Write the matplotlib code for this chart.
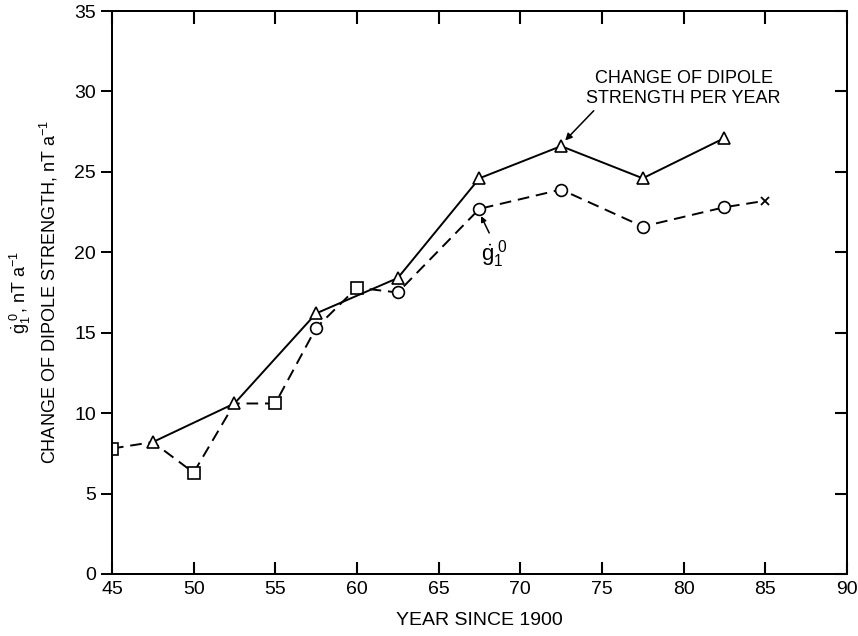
import matplotlib
matplotlib.use('Agg')
import matplotlib.pyplot as plt

# dipole change per year (solid line, triangles)
yr_tri = [47.5, 52.5, 57.5, 62.5, 67.5, 72.5, 77.5, 82.5]
val_tri = [8.2, 10.6, 16.2, 18.4, 24.6, 26.6, 24.6, 27.1]

# g1^0 dot (dashed line): squares, circles and a cross, joined in year order
# (at 47.5 and 52.5 the point sits under the triangle)
yr_g = [45, 47.5, 50, 52.5, 55, 57.5, 60, 62.5, 67.5, 72.5, 77.5, 82.5, 85]
val_g = [7.8, 8.2, 6.3, 10.6, 10.6, 15.3, 17.8, 17.5, 22.7, 23.9, 21.6, 22.8, 23.2]
mark_g = ['s', '', 's', '', 's', 'o', 's', 'o', 'o', 'o', 'o', 'o', 'x']

xticks = [45, 50, 55, 60, 65, 70, 75, 80, 85, 90]
yticks = [0, 5, 10, 15, 20, 25, 30, 35]

plt.rcParams['font.family'] = ['Liberation Sans', 'DejaVu Sans']
plt.rcParams['mathtext.fontset'] = 'custom'
plt.rcParams['mathtext.rm'] = 'Liberation Sans'
plt.rcParams['mathtext.it'] = 'Liberation Sans'

fig = plt.figure(figsize=(8.58, 6.36), dpi=100)
ax = fig.add_axes([0.1305, 0.0975, 0.8565, 0.8852])

ax.plot(yr_g, val_g, color='black', lw=1.4, ls=(0, (6, 3.5)), zorder=2)
for x, y, m in zip(yr_g, val_g, mark_g):
    if m == 'x':
        ax.plot(x, y, marker='x', ms=6, color='black', mew=1.3, zorder=3)
    elif m:
        ax.plot(x, y, marker=m, ms=8.5, mfc='white', mec='black', mew=1.2, zorder=3)

ax.plot(yr_tri, val_tri, color='black', lw=1.4, zorder=4)
ax.plot(yr_tri, val_tri, ls='none', marker='^', ms=9, mfc='white', mec='black', mew=1.2, zorder=5)

ax.set_xlim(45, 90)
ax.set_ylim(0, 35)
ax.set_xticks(xticks)
ax.set_yticks(yticks)
ax.tick_params(axis='x', direction='in', top=True, length=9, width=1.5, color='black',
               labelsize=14, pad=5)
ax.tick_params(axis='y', direction='out', length=8, width=1.4, color='black', labelsize=14)
for sp in ax.spines.values():
    sp.set_linewidth(1.4)

# right spine ticks point inward
ax2 = ax.twinx()
ax2.set_ylim(0, 35)
ax2.set_yticks(yticks)
ax2.tick_params(axis='y', direction='in', length=9, width=1.5, color='black', labelright=False)
for sp in ax2.spines.values():
    sp.set_linewidth(1.4)

ax.set_xlabel('YEAR SINCE 1900', fontsize=14, labelpad=10)
ax.set_ylabel('$\\dot{g}_1^{\\ 0}$, nT a$^{-1}$\nCHANGE OF DIPOLE STRENGTH, nT a$^{-1}$',
              fontsize=13, labelpad=10, linespacing=1.3)

ax.text(80.0, 30.2, 'CHANGE OF DIPOLE\nSTRENGTH PER YEAR', ha='center', va='center',
        fontsize=13, linespacing=1.25)
ax.annotate('', xy=(72.75, 26.95), xytext=(74.5, 28.8),
            arrowprops=dict(arrowstyle='-|>', color='black', lw=1.1, shrinkA=0, shrinkB=0,
                            mutation_scale=10))
ax.text(68.4, 19.9, '$\\dot{g}_1^{\\ 0}$', ha='center', va='center', fontsize=16)
ax.annotate('', xy=(67.6, 22.25), xytext=(68.1, 21.2),
            arrowprops=dict(arrowstyle='-|>', color='black', lw=1.1, shrinkA=0, shrinkB=0,
                            mutation_scale=8))

fig.savefig('out.png', dpi=100)
